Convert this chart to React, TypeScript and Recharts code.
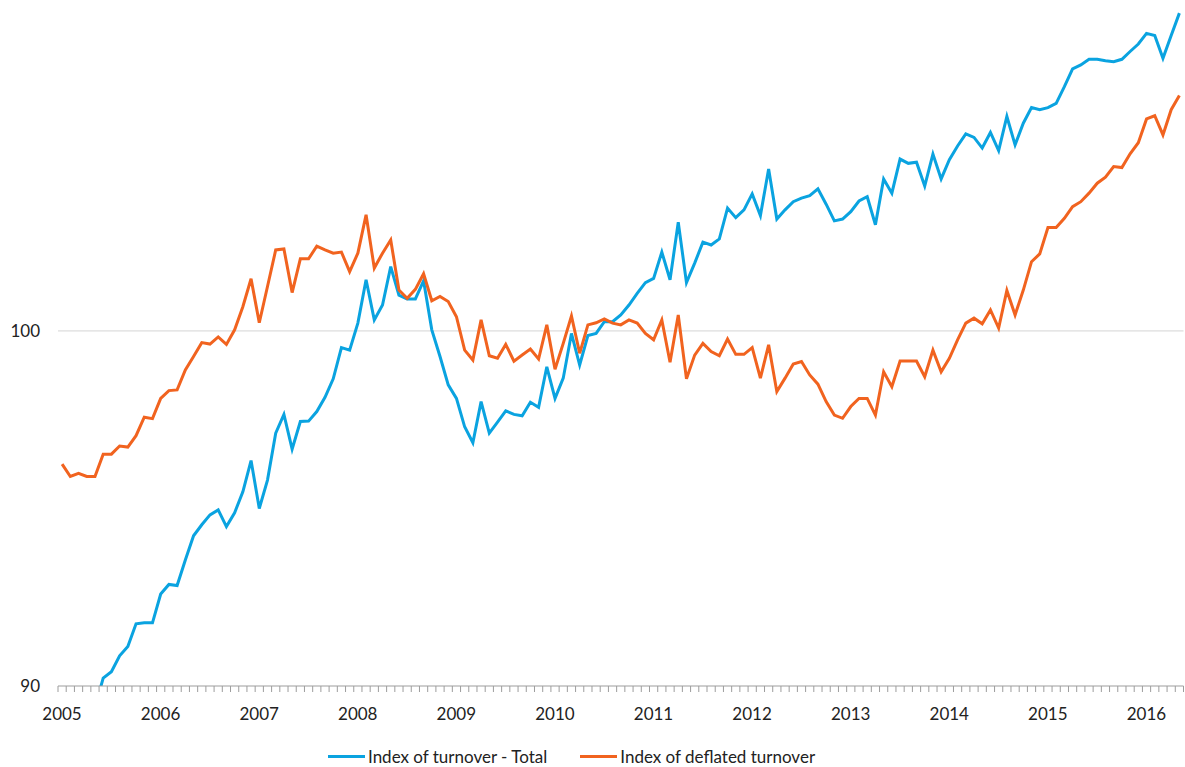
import React from "react";
import { LineChart, Line, XAxis, YAxis, ReferenceLine, Legend } from "recharts";

// monthly index values, Jan 2005 .. May 2016
const turnoverTotal = [
  88.6, 88.85, 89.05, 89.2, 89.4, 90.22, 90.4, 90.85, 91.11, 91.75, 91.78, 91.78,
  92.59, 92.86, 92.83, 93.55, 94.23, 94.54, 94.82, 94.96, 94.49, 94.88, 95.47, 96.35,
  95.0, 95.8, 97.12, 97.65, 96.67, 97.45, 97.46, 97.73, 98.13, 98.65, 99.53, 99.46,
  100.22, 101.44, 100.31, 100.73, 101.81, 101.01, 100.9, 100.9, 101.41, 100.03, 99.28, 98.48,
  98.1, 97.3, 96.85, 98.01, 97.12, 97.43, 97.75, 97.65, 97.61, 97.99, 97.85, 98.99,
  98.1, 98.67, 99.93, 99.04, 99.87, 99.93, 100.26, 100.26, 100.45, 100.73, 101.06, 101.36,
  101.48, 102.22, 101.44, 103.06, 101.36, 101.91, 102.5, 102.42, 102.59, 103.46, 103.19, 103.41,
  103.86, 103.25, 104.56, 103.15, 103.41, 103.64, 103.74, 103.81, 104.0, 103.57, 103.1, 103.15,
  103.36, 103.66, 103.78, 102.99, 104.28, 103.88, 104.84, 104.72, 104.75, 104.08, 104.98, 104.28,
  104.82, 105.21, 105.55, 105.45, 105.15, 105.59, 105.08, 106.04, 105.24, 105.85, 106.29, 106.23,
  106.29, 106.41, 106.88, 107.38, 107.49, 107.65, 107.65, 107.61, 107.58, 107.65, 107.87, 108.08,
  108.38, 108.32, 107.68, 108.32, 108.95,
];

const deflatedTurnover = [
  96.25, 95.9, 95.99, 95.9, 95.9, 96.53, 96.53, 96.76, 96.73, 97.05, 97.57, 97.53,
  98.1, 98.32, 98.34, 98.9, 99.28, 99.67, 99.63, 99.83, 99.62, 100.03, 100.68, 101.47,
  100.23, 101.25, 102.28, 102.31, 101.08, 102.03, 102.03, 102.39, 102.28, 102.19, 102.22, 101.67,
  102.19, 103.27, 101.77, 102.19, 102.56, 101.15, 100.92, 101.17, 101.61, 100.85, 100.97, 100.83,
  100.4, 99.46, 99.18, 100.31, 99.3, 99.23, 99.62, 99.15, 99.32, 99.49, 99.21, 100.17,
  98.92, 99.65, 100.42, 99.37, 100.17, 100.23, 100.34, 100.22, 100.17, 100.31, 100.22, 99.93,
  99.75, 100.31, 99.12, 100.45, 98.65, 99.32, 99.65, 99.42, 99.3, 99.77, 99.34, 99.34,
  99.53, 98.67, 99.61, 98.29, 98.67, 99.07, 99.14, 98.76, 98.5, 98.01, 97.63, 97.54,
  97.87, 98.1, 98.1, 97.63, 98.85, 98.43, 99.15, 99.15, 99.15, 98.71, 99.46, 98.85,
  99.23, 99.75, 100.22, 100.36, 100.2, 100.59, 100.08, 101.14, 100.45, 101.15, 101.95, 102.17,
  102.91, 102.91, 103.17, 103.5, 103.64, 103.88, 104.16, 104.33, 104.63, 104.6, 104.99, 105.3,
  105.97, 106.06, 105.52, 106.23, 106.63,
];

const years = ["2005", "2006", "2007", "2008", "2009", "2010", "2011", "2012", "2013", "2014", "2015", "2016"];
const yTicks = [90, 100];
const seriesOrder = ["Index of turnover - Total", "Index of deflated turnover"];

const FONT = "Lato, 'Open Sans', sans-serif";
const AXIS_GREY = "#9d9d9d";

const data = turnoverTotal.map((v, i) => ({
  t: i + 0.5, // point sits in the middle of its month
  total: v,
  deflated: deflatedTurnover[i],
}));

const monthTicks = Array.from({ length: turnoverTotal.length + 1 }, (_, i) => i);

function MonthTick(props: any) {
  const { x, y, payload } = props;
  const v = payload.value as number;
  const label = v % 12 === 0 ? years[v / 12] : null;
  return (
    <g>
      <line x1={x} y1={y} x2={x} y2={y + 6} stroke={AXIS_GREY} strokeWidth={1} />
      {label && (
        <text
          x={x + 4}
          y={y + 27}
          textAnchor="middle"
          dominantBaseline="central"
          fontFamily={FONT}
          fontSize={17}
          fill="#222"
        >
          {label}
        </text>
      )}
    </g>
  );
}

function LegendContent(props: any) {
  const payload = [...(props.payload || [])].sort(
    (a: any, b: any) => seriesOrder.indexOf(a.value) - seriesOrder.indexOf(b.value)
  );
  return (
    <div style={{ display: "flex", alignItems: "center", height: 22, fontFamily: FONT, fontSize: 17, color: "#222" }}>
      {payload.map((item: any, idx: number) => (
        <div key={item.value} style={{ display: "flex", alignItems: "center", marginRight: idx === 0 ? 33 : 0 }}>
          <span style={{ display: "inline-block", width: 37, height: 3, background: item.color, marginRight: 3 }} />
          <span>{item.value}</span>
        </div>
      ))}
    </div>
  );
}

export default function App() {
  return (
    <div style={{ position: "absolute", left: 0, top: 0, width: 1185, height: 767, background: "#fff" }}>
      <LineChart width={1185} height={767} data={data} margin={{ top: 0, right: 1.5, bottom: 0, left: 0 }}>
        <ReferenceLine y={100} stroke="#d4d4d4" strokeWidth={1} />
        <XAxis
          type="number"
          dataKey="t"
          domain={[0, turnoverTotal.length]}
          ticks={monthTicks}
          interval={0}
          height={59}
          tickSize={0}
          tickMargin={0}
          tickLine={false}
          axisLine={{ stroke: AXIS_GREY }}
          tick={<MonthTick />}
        />
        <YAxis
          domain={[90, 109.32]}
          ticks={yTicks}
          allowDataOverflow
          width={58}
          axisLine={false}
          tickLine={false}
          tickSize={0}
          tickMargin={18}
          tick={{ fontFamily: FONT, fontSize: 17, fill: "#222" }}
        />
        <Legend
          verticalAlign="bottom"
          content={<LegendContent />}
          wrapperStyle={{ left: 328, bottom: 0, width: 560, height: 22 }}
        />
        <Line
          type="linear"
          dataKey="total"
          name="Index of turnover - Total"
          stroke="#0AA3E0"
          strokeWidth={3}
          dot={false}
          isAnimationActive={false}
        />
        <Line
          type="linear"
          dataKey="deflated"
          name="Index of deflated turnover"
          stroke="#F1631F"
          strokeWidth={3}
          dot={false}
          isAnimationActive={false}
        />
      </LineChart>
    </div>
  );
}
